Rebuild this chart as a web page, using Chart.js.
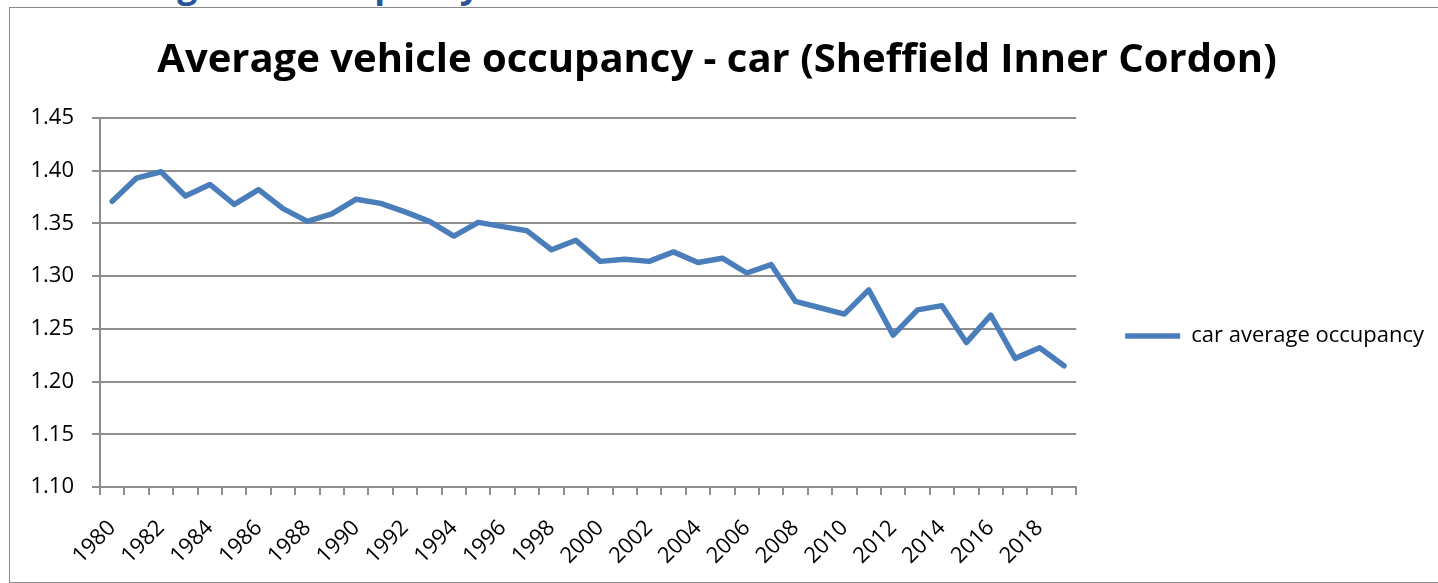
<!DOCTYPE html>
<html>
<head>
<meta charset="utf-8">
<script src="https://cdn.jsdelivr.net/npm/chart.js@4"></script>
<style>
  html, body { margin: 0; padding: 0; background: #fff; overflow: hidden; width: 1438px; height: 583px; }
  #heading { position: absolute; left: 74px; top: -41px; font: bold 35.5px "Open Sans", sans-serif; color: #2B5597; white-space: nowrap; }
  #frame { position: absolute; left: 9px; top: 7px; width: 1460px; height: 574px; border: 1px solid #8a8a8a; }
  #wrap { position: absolute; left: 0; top: 0; width: 1468px; height: 583px; }
</style>
</head>
<body>
<div id="heading">Average car occupancy</div>
<div id="frame"></div>
<div id="wrap"><canvas id="c"></canvas></div>
<script>
const years = [1980,1981,1982,1983,1984,1985,1986,1987,1988,1989,
               1990,1991,1992,1993,1994,1995,1996,1997,1998,1999,
               2000,2001,2002,2003,2004,2005,2006,2007,2008,2009,
               2010,2011,2012,2013,2014,2015,2016,2017,2018,2019];
const occupancy = [1.371,1.393,1.399,1.376,1.387,1.368,1.382,1.364,1.352,1.359,
                   1.373,1.369,1.361,1.352,1.338,1.351,1.347,1.343,1.325,1.334,
                   1.314,1.316,1.314,1.323,1.313,1.317,1.303,1.311,1.276,1.270,
                   1.264,1.287,1.244,1.268,1.272,1.237,1.263,1.222,1.232,1.215];
const seriesName = 'car average occupancy';
const chartTitle = 'Average vehicle occupancy - car (Sheffield Inner Cordon)';
const yMin = 1.10, yMax = 1.45, yStep = 0.05;

const FONT = '"Open Sans", sans-serif';
new Chart(document.getElementById('c'), {
  type: 'line',
  data: {
    labels: years.map(String),
    datasets: [{
      label: seriesName,
      data: occupancy,
      borderColor: '#4A7EBB',
      backgroundColor: '#4A7EBB',
      borderWidth: 5.5,
      pointRadius: 0,
      pointHoverRadius: 0,
      tension: 0,
      borderJoinStyle: 'round',
      borderCapStyle: 'round'
    }]
  },
  options: {
    responsive: true,
    maintainAspectRatio: false,
    animation: false,
    layout: { padding: { left: 0, right: 34, top: 37, bottom: 0 } },
    plugins: {
      tooltip: { enabled: false },
      title: {
        display: true,
        text: chartTitle,
        color: '#000',
        font: { family: FONT, size: 40, weight: 'bold', lineHeight: 1.2 },
        padding: { top: 0, bottom: 33 }
      },
      legend: {
        position: 'right',
        title: {
          display: true,
          text: ' ',
          font: { size: 10, lineHeight: 1.2 },
          padding: { top: 40, bottom: 0 }
        },
        labels: {
          usePointStyle: true,
          pointStyle: 'line',
          pointStyleWidth: 55,
          boxHeight: 5,
          padding: 49,
          color: '#000',
          font: { family: FONT, size: 22 }
        }
      }
    },
    scales: {
      x: {
        offset: true,
        grid: { offset: true, drawOnChartArea: false, drawTicks: true, tickLength: 8, color: '#8e8e8e', lineWidth: 2 },
        border: { color: '#8e8e8e', width: 2 },
        ticks: {
          autoSkip: false,
          maxRotation: 45, minRotation: 45,
          color: '#000',
          padding: 20,
          font: { family: FONT, size: 22 },
          callback: function(v, i) { return i % 2 === 0 ? this.getLabelForValue(v) : ''; }
        },
        afterFit: s => { s.height = 96; }
      },
      y: {
        min: yMin, max: yMax,
        grid: { color: '#8e8e8e', lineWidth: 2, tickLength: 8 },
        border: { color: '#8e8e8e', width: 2 },
        ticks: {
          stepSize: yStep,
          color: '#000',
          padding: 18,
          font: { family: FONT, size: 22 },
          callback: v => v.toFixed(2)
        },
        afterFit: s => { s.width = 100; }
      }
    }
  }
});
</script>
</body>
</html>
